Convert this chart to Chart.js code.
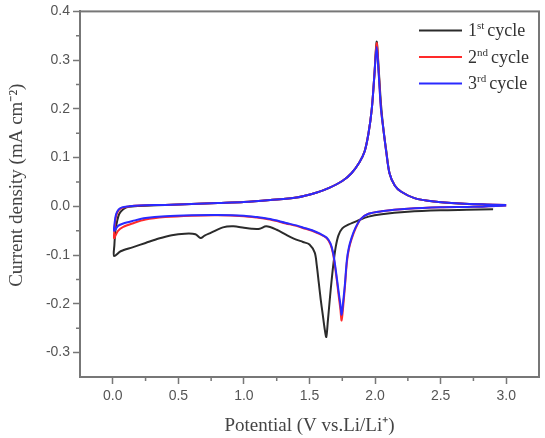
<!DOCTYPE html>
<html>
<head>
<meta charset="utf-8">
<script src="https://cdn.jsdelivr.net/npm/chart.js@4"></script>
<style>
  html, body { margin: 0; padding: 0; background: #fff; }
  #wrap { width: 545px; height: 438px; }
</style>
</head>
<body>
<div id="wrap"><canvas id="cv"></canvas></div>
<script>
// CV curves, 3 cycles. Sweep goes down (cathodic) then back up (anodic).
const cycleNames = ['1', '2', '3'];
const cycleSups = ['st', 'nd', 'rd'];
const cycleColors = ['#2b2b2b', '#ff2a2a', '#2a2aff'];
const yTitle = 'Current density (mA cm\u207B\u00B2)';

// cycle 1 potentials (V) and current (mA cm-2)
const potential1 = [2.90, 2.70, 2.50, 2.25, 2.05, 1.95, 1.87, 1.80, 1.75, 1.72, 1.70, 1.685, 1.67, 1.655, 1.64, 1.628, 1.615, 1.60, 1.585, 1.57, 1.555, 1.54, 1.50, 1.45, 1.38, 1.32, 1.25, 1.17, 1.12, 1.06, 1.00, 0.92, 0.84, 0.75, 0.70, 0.67, 0.63, 0.55, 0.45, 0.35, 0.25, 0.15, 0.06, 0.01,
  0.012, 0.02, 0.035, 0.05, 0.08, 0.12, 0.20, 0.40, 0.60, 0.80, 1.00, 1.20, 1.40, 1.55, 1.65, 1.75, 1.82, 1.88, 1.92, 1.95, 1.975, 1.995, 2.012, 2.028, 2.045, 2.065, 2.085, 2.11, 2.15, 2.20, 2.30, 2.45, 2.65, 2.90];
const current1 = [-0.006, -0.007, -0.008, -0.011, -0.016, -0.021, -0.029, -0.037, -0.045, -0.060, -0.083, -0.112, -0.148, -0.19, -0.235, -0.268, -0.25, -0.22, -0.19, -0.155, -0.12, -0.095, -0.078, -0.073, -0.066, -0.058, -0.048, -0.041, -0.046, -0.046, -0.044, -0.041, -0.043, -0.054, -0.060, -0.065, -0.057, -0.056, -0.059, -0.066, -0.075, -0.084, -0.092, -0.102,
  -0.08, -0.05, -0.028, -0.015, -0.006, -0.001, 0.001, 0.003, 0.005, 0.007, 0.009, 0.013, 0.018, 0.028, 0.038, 0.052, 0.068, 0.090, 0.113, 0.15, 0.20, 0.27, 0.338, 0.28, 0.21, 0.155, 0.115, 0.068, 0.043, 0.030, 0.017, 0.010, 0.006, 0.003];

// cycles 2 and 3 share the same potential grid
const potential23 = [3.00, 2.75, 2.50, 2.25, 2.05, 1.95, 1.89, 1.85, 1.82, 1.80, 1.785, 1.77, 1.757, 1.745, 1.735, 1.722, 1.71, 1.695, 1.68, 1.66, 1.63, 1.58, 1.52, 1.47, 1.40, 1.32, 1.20, 1.10, 1.00, 0.80, 0.60, 0.40, 0.25, 0.15, 0.08, 0.04, 0.01,
  0.015, 0.025, 0.045, 0.07, 0.12, 0.20, 0.40, 0.60, 0.80, 1.00, 1.20, 1.40, 1.55, 1.65, 1.75, 1.82, 1.88, 1.92, 1.95, 1.975, 1.995, 2.012, 2.028, 2.045, 2.065, 2.085, 2.11, 2.15, 2.20, 2.30, 2.45, 2.65, 2.85, 3.00];
const current2 = [0.002, -0.001, -0.002, -0.005, -0.010, -0.015, -0.026, -0.046, -0.068, -0.088, -0.115, -0.165, -0.205, -0.234, -0.21, -0.182, -0.155, -0.124, -0.098, -0.078, -0.065, -0.057, -0.050, -0.046, -0.040, -0.035, -0.027, -0.023, -0.020, -0.018, -0.019, -0.022, -0.027, -0.035, -0.042, -0.050, -0.065,
  -0.04, -0.02, -0.008, -0.003, 0.000, 0.002, 0.003, 0.005, 0.007, 0.009, 0.013, 0.018, 0.028, 0.038, 0.052, 0.068, 0.090, 0.112, 0.15, 0.20, 0.27, 0.335, 0.275, 0.20, 0.155, 0.112, 0.068, 0.043, 0.030, 0.017, 0.010, 0.006, 0.004, 0.003];
const current3 = [0.002, -0.001, -0.002, -0.005, -0.010, -0.015, -0.026, -0.044, -0.065, -0.085, -0.11, -0.16, -0.195, -0.222, -0.20, -0.175, -0.15, -0.12, -0.095, -0.076, -0.064, -0.056, -0.049, -0.045, -0.039, -0.034, -0.026, -0.022, -0.019, -0.0175, -0.018, -0.020, -0.024, -0.030, -0.035, -0.040, -0.050,
  -0.032, -0.016, -0.006, -0.002, 0.000, 0.002, 0.003, 0.005, 0.007, 0.009, 0.013, 0.018, 0.028, 0.038, 0.052, 0.068, 0.090, 0.112, 0.15, 0.20, 0.27, 0.327, 0.27, 0.20, 0.155, 0.112, 0.068, 0.043, 0.030, 0.017, 0.010, 0.006, 0.004, 0.003];

const xTicks = [0, 0.5, 1.0, 1.5, 2.0, 2.5, 3.0];
const yTicks = [-0.3, -0.2, -0.1, 0.0, 0.1, 0.2, 0.3, 0.4];

const toPoints = (xs, ys) => xs.map((x, i) => ({ x: x, y: ys[i] }));
const series = [
  toPoints(potential1, current1),
  toPoints(potential23, current2),
  toPoints(potential23, current3),
];

const axisColor = '#777';
const tickFont = { family: '"Liberation Sans", Arial, sans-serif', size: 14 };
const serif = '"Liberation Serif", "Times New Roman", serif';

// frame, minor ticks, legend, y title
const extras = {
  id: 'extras',
  afterDatasetsDraw(chart) {
    const { ctx, chartArea: a, scales } = chart;
    ctx.save();
    ctx.strokeStyle = axisColor;
    ctx.lineWidth = 2;
    ctx.strokeRect(a.left, a.top, a.right - a.left, a.bottom - a.top);

    // minor ticks
    ctx.lineWidth = 1.5;
    ctx.beginPath();
    for (let v = 0.25; v < 3.25; v += 0.5) {
      const px = scales.x.getPixelForValue(v);
      ctx.moveTo(px, a.bottom); ctx.lineTo(px, a.bottom + 4);
    }
    for (let v = -0.25; v < 0.4; v += 0.1) {
      const py = scales.y.getPixelForValue(v);
      ctx.moveTo(a.left, py); ctx.lineTo(a.left - 4, py);
    }
    ctx.stroke();

    // legend
    ctx.textBaseline = 'alphabetic';
    chart.data.datasets.forEach((ds, i) => {
      const y = a.top + 19 + i * 26.5;
      const x0 = a.right - 120;
      ctx.strokeStyle = ds.borderColor;
      ctx.lineWidth = 2;
      ctx.beginPath();
      ctx.moveTo(x0, y); ctx.lineTo(x0 + 43, y);
      ctx.stroke();
      ctx.fillStyle = '#333';
      let tx = x0 + 49;
      ctx.font = '18px ' + serif;
      ctx.fillText(cycleNames[i], tx, y + 6);
      tx += ctx.measureText(cycleNames[i]).width;
      ctx.font = '11px ' + serif;
      ctx.fillText(cycleSups[i], tx, y - 1);
      tx += ctx.measureText(cycleSups[i]).width + 3;
      ctx.font = '18px ' + serif;
      ctx.fillText('cycle', tx, y + 6);
    });

    // y title
    ctx.translate(17, (a.top + a.bottom) / 2 - 9);
    ctx.rotate(-Math.PI / 2);
    ctx.font = '19px ' + serif;
    ctx.fillStyle = '#444';
    ctx.textAlign = 'center';
    ctx.textBaseline = 'middle';
    ctx.fillText(yTitle, 0, 0);
    ctx.restore();
  }
};

new Chart(document.getElementById('cv'), {
  type: 'scatter',
  data: {
    datasets: series.map((pts, i) => ({
      label: cycleNames[i] + cycleSups[i] + ' cycle',
      data: pts,
      showLine: true,
      borderColor: cycleColors[i],
      backgroundColor: cycleColors[i],
      borderWidth: 2,
      pointRadius: 0,
      tension: 0.3,
      fill: false,
      order: 3 - i,
    })),
  },
  options: {
    responsive: true,
    maintainAspectRatio: false,
    animation: false,
    layout: { padding: { top: 7, right: 6, left: 0, bottom: 0 } },
    plugins: { legend: { display: false }, tooltip: { enabled: false } },
    scales: {
      x: {
        type: 'linear',
        min: -0.25,
        max: 3.25,
        afterBuildTicks: s => { s.ticks = xTicks.map(v => ({ value: v })); },
        afterFit: s => { s.height = 61; },
        ticks: {
          autoSkip: false,
          maxRotation: 0,
          padding: 4,
          color: '#555',
          font: tickFont,
          callback: v => v.toFixed(1),
        },
        grid: { drawOnChartArea: false, drawTicks: true, tickLength: 7, tickWidth: 1.5, tickColor: axisColor },
        border: { display: true, color: axisColor, width: 2 },
        title: {
          display: true,
          text: 'Potential (V vs.Li/Li\u207A)',
          color: '#444',
          font: { family: serif, size: 19 },
          padding: { top: 0, bottom: 1 },
        },
      },
      y: {
        type: 'linear',
        min: -0.35,
        max: 0.4,
        afterBuildTicks: s => { s.ticks = yTicks.map(v => ({ value: v })); },
        afterFit: s => { s.width = 80; },
        ticks: {
          autoSkip: false,
          padding: 3,
          color: '#555',
          font: tickFont,
          callback: v => v.toFixed(1),
        },
        grid: { drawOnChartArea: false, drawTicks: true, tickLength: 7, tickWidth: 1.5, tickColor: axisColor },
        border: { display: true, color: axisColor, width: 2 },
      },
    },
  },
  plugins: [extras],
});
</script>
</body>
</html>
